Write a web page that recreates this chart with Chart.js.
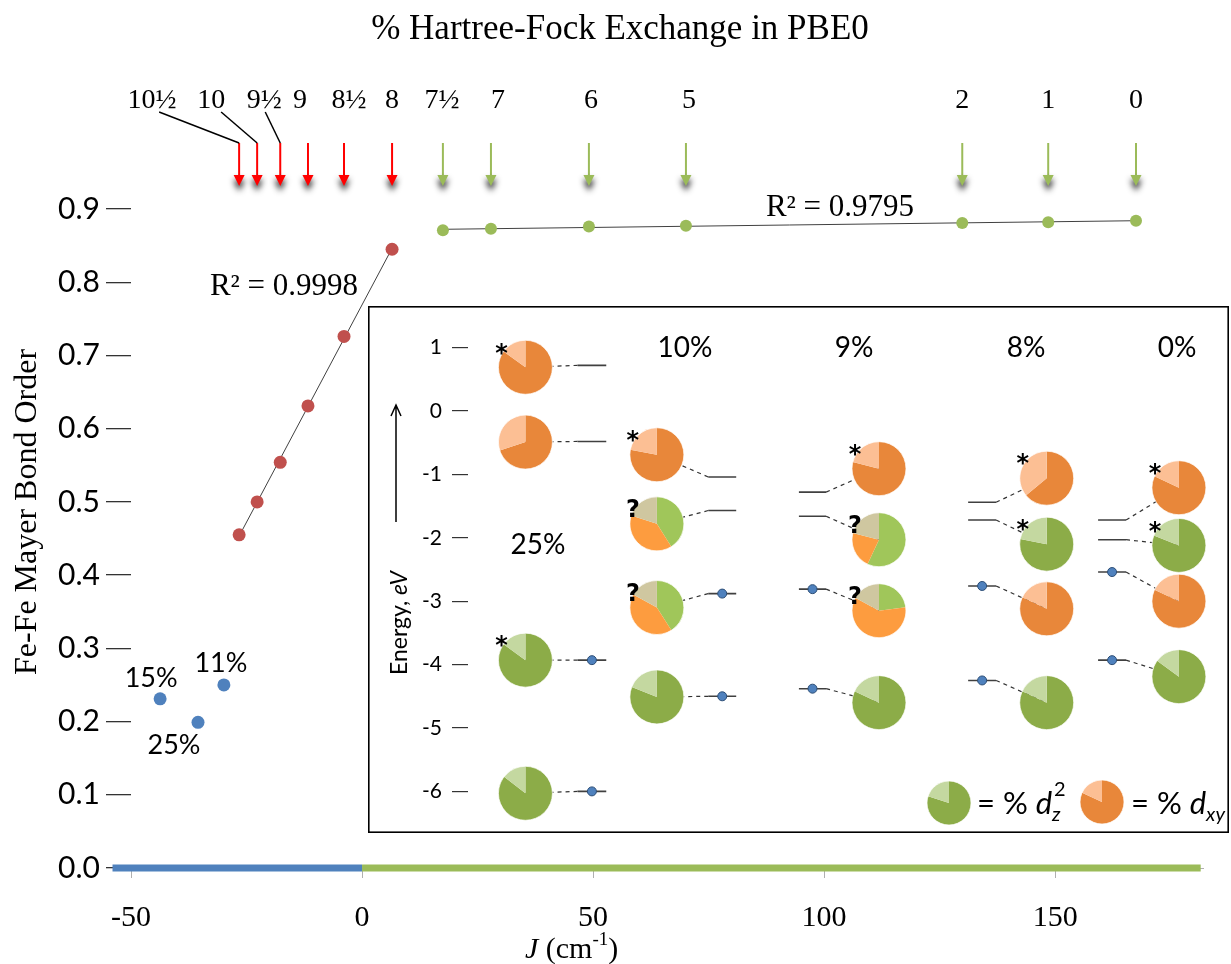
<!DOCTYPE html>
<html>
<head>
<meta charset="utf-8">
<script src="https://cdn.jsdelivr.net/npm/chart.js@4.4.1/dist/chart.umd.min.js"></script>
<style>
  body { margin: 0; background: #fff; }
  #wrap { position: relative; width: 1231px; height: 964px; }
  #main { position: absolute; left: 0; top: 0; }
  #inset { position: absolute; left: 368px; top: 306px; background: #fff; }
</style>
</head>
<body>
<div id="wrap">
  <canvas id="main" width="1231" height="964"></canvas>
  <canvas id="inset" width="861" height="527"></canvas>
</div>
<script>
// ---- main plot: Fe-Fe Mayer bond order vs J ----
var redJ = [-26.6, -22.7, -17.7, -11.7, -3.9, 6.5];
var redBO = [0.455, 0.500, 0.554, 0.631, 0.726, 0.845];
var greenJ = [17.5, 27.9, 49.1, 70.1, 129.9, 148.5, 167.5];
var greenBO = [0.871, 0.873, 0.876, 0.877, 0.881, 0.882, 0.884];
var blueJ = [-43.7, -35.5, -29.9];
var blueBO = [0.231, 0.199, 0.250];
var blueLabels = ['15%', '25%', '11%'];
var hfLabels = ['10½', '10', '9½', '9', '8½', '8', '7½', '7', '6', '5', '2', '1', '0'];
var blueRange = [-54, 0];
var greenRange = [0, 181.5];
var r2Red = 'R² = 0.9998';
var r2Green = 'R² = 0.9795';

// ---- inset: orbital energies (eV) ----
var columns = ['25%', '10%', '9%', '8%', '0%'];
var levelsE = [
    [0.72, -0.48, -3.93, -6.00],
    [-1.04, -1.57, -2.88, -4.50],
    [-1.28, -1.66, -2.81, -4.38],
    [-1.44, -1.72, -2.76, -4.25],
    [-1.72, -2.03, -2.54, -3.93]
];
var occupied = [
    [0, 0, 1, 1],
    [0, 0, 1, 1],
    [0, 0, 1, 1],
    [0, 0, 1, 1],
    [0, 0, 1, 1]
];
var pieE = [
    [0.69, -0.49, -3.93, -6.03],
    [-0.69, -1.78, -3.10, -4.51],
    [-0.91, -2.03, -3.15, -4.60],
    [-1.06, -2.10, -3.12, -4.60],
    [-1.21, -2.12, -3.00, -4.19]
];
// o = dxy (dark, light), g = dz2 (dark, light), m = mixed (dz2, dxy, other)
var pieKind = [
    ['o', 'o', 'g', 'g'],
    ['o', 'm', 'm', 'g'],
    ['o', 'm', 'm', 'g'],
    ['o', 'g', 'o', 'g'],
    ['o', 'g', 'o', 'g']
];
var pieParts = [
    [[0.85, 0.15], [0.70, 0.30], [0.85, 0.15], [0.855, 0.145]],
    [[0.78, 0.22], [0.41, 0.39, 0.20], [0.41, 0.42, 0.17], [0.81, 0.19]],
    [[0.79, 0.21], [0.57, 0.22, 0.21], [0.23, 0.60, 0.17], [0.82, 0.18]],
    [[0.64, 0.36], [0.78, 0.22], [0.82, 0.18], [0.82, 0.18]],
    [[0.82, 0.18], [0.81, 0.19], [0.82, 0.18], [0.85, 0.15]]
];
var pieMark = [
    ['*', '', '*', ''],
    ['*', '?', '?', ''],
    ['*', '?', '?', ''],
    ['*', '*', '', ''],
    ['*', '*', '', '']
];
var legendParts = { g: [0.80, 0.20], o: [0.82, 0.18] };

// layout (not data)
var labelShift = [-87, -46, -16, -8, 5, 0, -1, 7, 2, 3, 0, 0, 0];
var leaderStart = [7, 10, 1];
var blueLabelOff = [[-9, -21], [-24, 23], [-3, -22]];
var colPieX = [7.6, 25.0, 54.4, 76.6, 94.1];
var colLevelX = [[14.5, 18.3], [31.8, 35.5], [43.8, 47.4], [66.2, 69.9], [83.4, 87.1]];
var pieColors = {
    o: ['#E8873A', '#FCBF94'],
    g: ['#8CAC48', '#C4D8A0'],
    m: ['#A0C65A', '#FD9C3F', '#CFC7A0']
};

function fitLine(xs, ys) {
    var n = xs.length, sx = 0, sy = 0, sxx = 0, sxy = 0;
    for (var i = 0; i < n; i++) {
        sx += xs[i]; sy += ys[i]; sxx += xs[i] * xs[i]; sxy += xs[i] * ys[i];
    }
    var b = (n * sxy - sx * sy) / (n * sxx - sx * sx);
    var a = (sy - b * sx) / n;
    var lo = Math.min.apply(null, xs), hi = Math.max.apply(null, xs);
    return [{ x: lo, y: a + b * lo }, { x: hi, y: a + b * hi }];
}

function pts(xs, ys) {
    return xs.map(function (x, i) { return { x: x, y: ys[i] }; });
}

function drawArrow(ctx, x, color) {
    ctx.save();
    ctx.strokeStyle = color;
    ctx.lineWidth = 2;
    ctx.beginPath();
    ctx.moveTo(x, 143);
    ctx.lineTo(x, 177);
    ctx.stroke();
    ctx.shadowColor = 'rgba(0,0,0,0.9)';
    ctx.shadowBlur = 6;
    ctx.shadowOffsetY = 5;
    ctx.fillStyle = color;
    ctx.beginPath();
    ctx.moveTo(x - 5.5, 175);
    ctx.lineTo(x + 5.5, 175);
    ctx.lineTo(x, 186);
    ctx.closePath();
    ctx.fill();
    ctx.restore();
}

function drawPie(ctx, cx, cy, r, parts, colors) {
    var a = -Math.PI / 2;
    for (var i = 0; i < parts.length; i++) {
        var b = a + parts[i] * 2 * Math.PI;
        ctx.beginPath();
        ctx.moveTo(cx, cy);
        ctx.arc(cx, cy, r, a, b);
        ctx.closePath();
        ctx.fillStyle = colors[i];
        ctx.fill();
        a = b;
    }
    ctx.beginPath();
    ctx.arc(cx, cy, r, 0, 2 * Math.PI);
    ctx.strokeStyle = 'rgba(255,255,255,0.7)';
    ctx.lineWidth = 1;
    ctx.stroke();
}

var mainDecor = {
    id: 'mainDecor',
    afterDraw: function (chart) {
        var ctx = chart.ctx, xs = chart.scales.x, ys = chart.scales.y;
        ctx.save();
        ctx.fillStyle = '#000';
        ctx.textAlign = 'center';
        ctx.textBaseline = 'middle';

        ctx.font = '35px "Liberation Serif"';
        ctx.fillText('% Hartree-Fock Exchange in PBE0', 620, 30);

        var arrowJ = redJ.concat(greenJ);
        ctx.font = '28px "Liberation Serif"';
        for (var i = 0; i < arrowJ.length; i++) {
            var x = xs.getPixelForValue(arrowJ[i]);
            ctx.fillStyle = '#000';
            ctx.fillText(hfLabels[i], x + labelShift[i], 101);
            drawArrow(ctx, x, i < redJ.length ? '#FF0000' : '#9BBB59');
            if (i < leaderStart.length) {
                ctx.strokeStyle = '#000';
                ctx.lineWidth = 1.5;
                ctx.beginPath();
                ctx.moveTo(x + labelShift[i] + leaderStart[i], 112);
                ctx.lineTo(x, 143);
                ctx.stroke();
            }
        }

        ctx.font = '31px "Liberation Serif"';
        ctx.fillText(r2Red, 284, 287);
        ctx.fillText(r2Green, 840, 208);

        ctx.font = '27px Lato';
        for (var k = 0; k < blueJ.length; k++) {
            ctx.fillText(blueLabels[k], xs.getPixelForValue(blueJ[k]) + blueLabelOff[k][0],
                ys.getPixelForValue(blueBO[k]) + blueLabelOff[k][1]);
        }

        // y title
        ctx.save();
        ctx.translate(28, 512);
        ctx.rotate(-Math.PI / 2);
        ctx.font = '32px "Liberation Serif"';
        ctx.fillText('Fe-Fe Mayer Bond Order', 0, 0);
        ctx.restore();

        // x title: J (cm-1)
        ctx.textAlign = 'left';
        var tx = 525, ty = 950;
        ctx.font = 'italic 30px "Liberation Serif"';
        ctx.fillText('J', tx, ty);
        tx += ctx.measureText('J ').width;
        ctx.font = '30px "Liberation Serif"';
        ctx.fillText('(cm', tx, ty);
        tx += ctx.measureText('(cm').width;
        ctx.font = '19px "Liberation Serif"';
        ctx.fillText('-1', tx, ty - 10);
        tx += ctx.measureText('-1').width;
        ctx.font = '30px "Liberation Serif"';
        ctx.fillText(')', tx, ty);
        ctx.restore();
    }
};

new Chart(document.getElementById('main'), {
    type: 'scatter',
    data: {
        datasets: [
            { data: pts(redJ, redBO), backgroundColor: '#C0504D', pointRadius: 6.5, borderWidth: 0 },
            { data: pts(greenJ, greenBO), backgroundColor: '#9BBB59', pointRadius: 6, borderWidth: 0 },
            { data: pts(blueJ, blueBO), backgroundColor: '#4F81BD', pointRadius: 6.5, borderWidth: 0 },
            { data: fitLine(redJ, redBO), showLine: true, borderColor: '#404040', borderWidth: 1, pointRadius: 0 },
            { data: fitLine(greenJ, greenBO), showLine: true, borderColor: '#404040', borderWidth: 1, pointRadius: 0 },
            { data: [{ x: blueRange[0], y: 0 }, { x: blueRange[1], y: 0 }], showLine: true,
              borderColor: '#4F81BD', borderWidth: 7, pointRadius: 0, borderCapStyle: 'butt' },
            { data: [{ x: greenRange[0], y: 0 }, { x: greenRange[1], y: 0 }], showLine: true,
              borderColor: '#9BBB59', borderWidth: 7, pointRadius: 0, borderCapStyle: 'butt' }
        ]
    },
    options: {
        responsive: false,
        animation: false,
        clip: false,
        layout: { padding: { top: 209, right: 28, left: 0, bottom: 0 } },
        plugins: { legend: { display: false }, tooltip: { enabled: false } },
        scales: {
            x: {
                type: 'linear', min: -50, max: 182,
                afterFit: function (s) { s.height = 96; },
                ticks: { stepSize: 50, includeBounds: false, maxRotation: 0, color: '#000',
                         font: { family: 'Liberation Serif', size: 30 }, padding: 22 },
                grid: { drawOnChartArea: false, tickLength: 10, color: '#b0b0b0' },
                border: { display: true, color: '#b0b0b0' }
            },
            y: {
                min: 0, max: 0.9,
                afterFit: function (s) { s.width = 131; },
                ticks: { stepSize: 0.1, color: '#000', font: { family: 'Lato', size: 30 }, padding: 6,
                         callback: function (v) { return v.toFixed(1); } },
                grid: { drawOnChartArea: false, tickLength: 25, color: '#333', lineWidth: 1.3 },
                border: { display: false }
            }
        }
    },
    plugins: [mainDecor]
});

// ---- inset ----
var levelData = [], linkData = [], dotData = [];
for (var c = 0; c < columns.length; c++) {
    var x0 = colLevelX[c][0], x1 = colLevelX[c][1];
    var near = colPieX[c] < x0 ? x0 : x1;
    for (var j = 0; j < levelsE[c].length; j++) {
        levelData.push({ x: x0, y: levelsE[c][j] }, { x: x1, y: levelsE[c][j] }, { x: x1, y: null });
        linkData.push({ x: near, y: levelsE[c][j] }, { x: colPieX[c], y: pieE[c][j] }, { x: colPieX[c], y: null });
        if (occupied[c][j]) dotData.push({ x: (x0 + x1) / 2, y: levelsE[c][j] });
    }
}

var insetDecor = {
    id: 'insetDecor',
    afterDatasetsDraw: function (chart) {
        var ctx = chart.ctx, xs = chart.scales.x, ys = chart.scales.y;
        ctx.save();
        for (var c = 0; c < columns.length; c++) {
            for (var j = 0; j < pieE[c].length; j++) {
                var px = xs.getPixelForValue(colPieX[c]), py = ys.getPixelForValue(pieE[c][j]);
                drawPie(ctx, px, py, 27, pieParts[c][j], pieColors[pieKind[c][j]]);
                if (pieMark[c][j]) {
                    ctx.fillStyle = '#000';
                    ctx.font = 'bold 24px "DejaVu Sans"';
                    ctx.textAlign = 'center';
                    ctx.textBaseline = 'middle';
                    ctx.fillText(pieMark[c][j], px - 24, py - 13);
                }
            }
        }
        ctx.restore();
    },
    afterDraw: function (chart) {
        var ctx = chart.ctx, w = chart.width, h = chart.height;
        ctx.save();
        ctx.strokeStyle = '#000';
        ctx.lineWidth = 1.6;
        ctx.strokeRect(0.8, 0.8, w - 1.6, h - 1.6);

        ctx.fillStyle = '#000';
        ctx.textAlign = 'center';
        ctx.textBaseline = 'middle';
        ctx.font = '28px Lato';
        var headPos = [[170, 239], [317, 42], [486, 42], [658, 42], [809, 42]];
        for (var c = 0; c < columns.length; c++) {
            ctx.fillText(columns[c], headPos[c][0], headPos[c][1]);
        }

        // Energy, eV title with arrow
        ctx.save();
        ctx.translate(32, 317);
        ctx.rotate(-Math.PI / 2);
        ctx.font = '23px Lato';
        var t1 = 'Energy, ', t2 = 'eV';
        var w1 = ctx.measureText(t1).width;
        ctx.font = 'italic 23px Lato';
        var w2 = ctx.measureText(t2).width;
        ctx.textAlign = 'left';
        ctx.font = '23px Lato';
        ctx.fillText(t1, -(w1 + w2) / 2, 0);
        ctx.font = 'italic 23px Lato';
        ctx.fillText(t2, -(w1 + w2) / 2 + w1, 0);
        ctx.restore();
        ctx.strokeStyle = '#000';
        ctx.lineWidth = 1.5;
        ctx.beginPath();
        ctx.moveTo(28, 216);
        ctx.lineTo(28, 100);
        ctx.moveTo(23, 110);
        ctx.lineTo(28, 99);
        ctx.lineTo(33, 110);
        ctx.stroke();

        // legend
        drawPie(ctx, 581, 497, 22, legendParts.g, pieColors.g);
        drawPie(ctx, 734, 496, 22, legendParts.o, pieColors.o);
        ctx.fillStyle = '#000';
        ctx.textAlign = 'left';
        ctx.textBaseline = 'alphabetic';
        function legendText(x, sub, sup) {
            ctx.font = '31px Lato';
            ctx.fillText('= % ', x, 508);
            x += ctx.measureText('= % ').width;
            ctx.font = 'italic 31px Lato';
            ctx.fillText('d', x, 508);
            x += ctx.measureText('d').width;
            ctx.font = 'italic 20px Lato';
            ctx.fillText(sub, x, 515);
            if (sup) {
                ctx.font = '20px Lato';
                ctx.fillText(sup, x + 2, 490);
            }
        }
        legendText(609, 'z', '2');
        legendText(763, 'xy', '');
        ctx.restore();
    }
};

new Chart(document.getElementById('inset'), {
    type: 'scatter',
    data: {
        datasets: [
            { data: dotData, backgroundColor: '#4F81BD', borderColor: '#2C4D75', borderWidth: 1, pointRadius: 4.5 },
            { data: levelData, showLine: true, spanGaps: false, borderColor: '#404040', borderWidth: 1.6, pointRadius: 0 },
            { data: linkData, showLine: true, spanGaps: false, borderColor: '#333', borderWidth: 1.2,
              borderDash: [4, 4], pointRadius: 0 }
        ]
    },
    options: {
        responsive: false,
        animation: false,
        clip: false,
        layout: { padding: { top: 1, bottom: 9, left: 0, right: 0 } },
        plugins: { legend: { display: false }, tooltip: { enabled: false } },
        scales: {
            x: { type: 'linear', min: 0, max: 100, display: false },
            y: {
                min: -6.3, max: 1.3,
                afterFit: function (s) { s.width = 100; },
                ticks: { stepSize: 1, includeBounds: false, color: '#000', font: { family: 'Lato', size: 21 }, padding: 10 },
                grid: { drawOnChartArea: false, tickLength: 16, color: '#333', lineWidth: 1.2 },
                border: { display: false }
            }
        }
    },
    plugins: [insetDecor]
});
</script>
</body>
</html>
